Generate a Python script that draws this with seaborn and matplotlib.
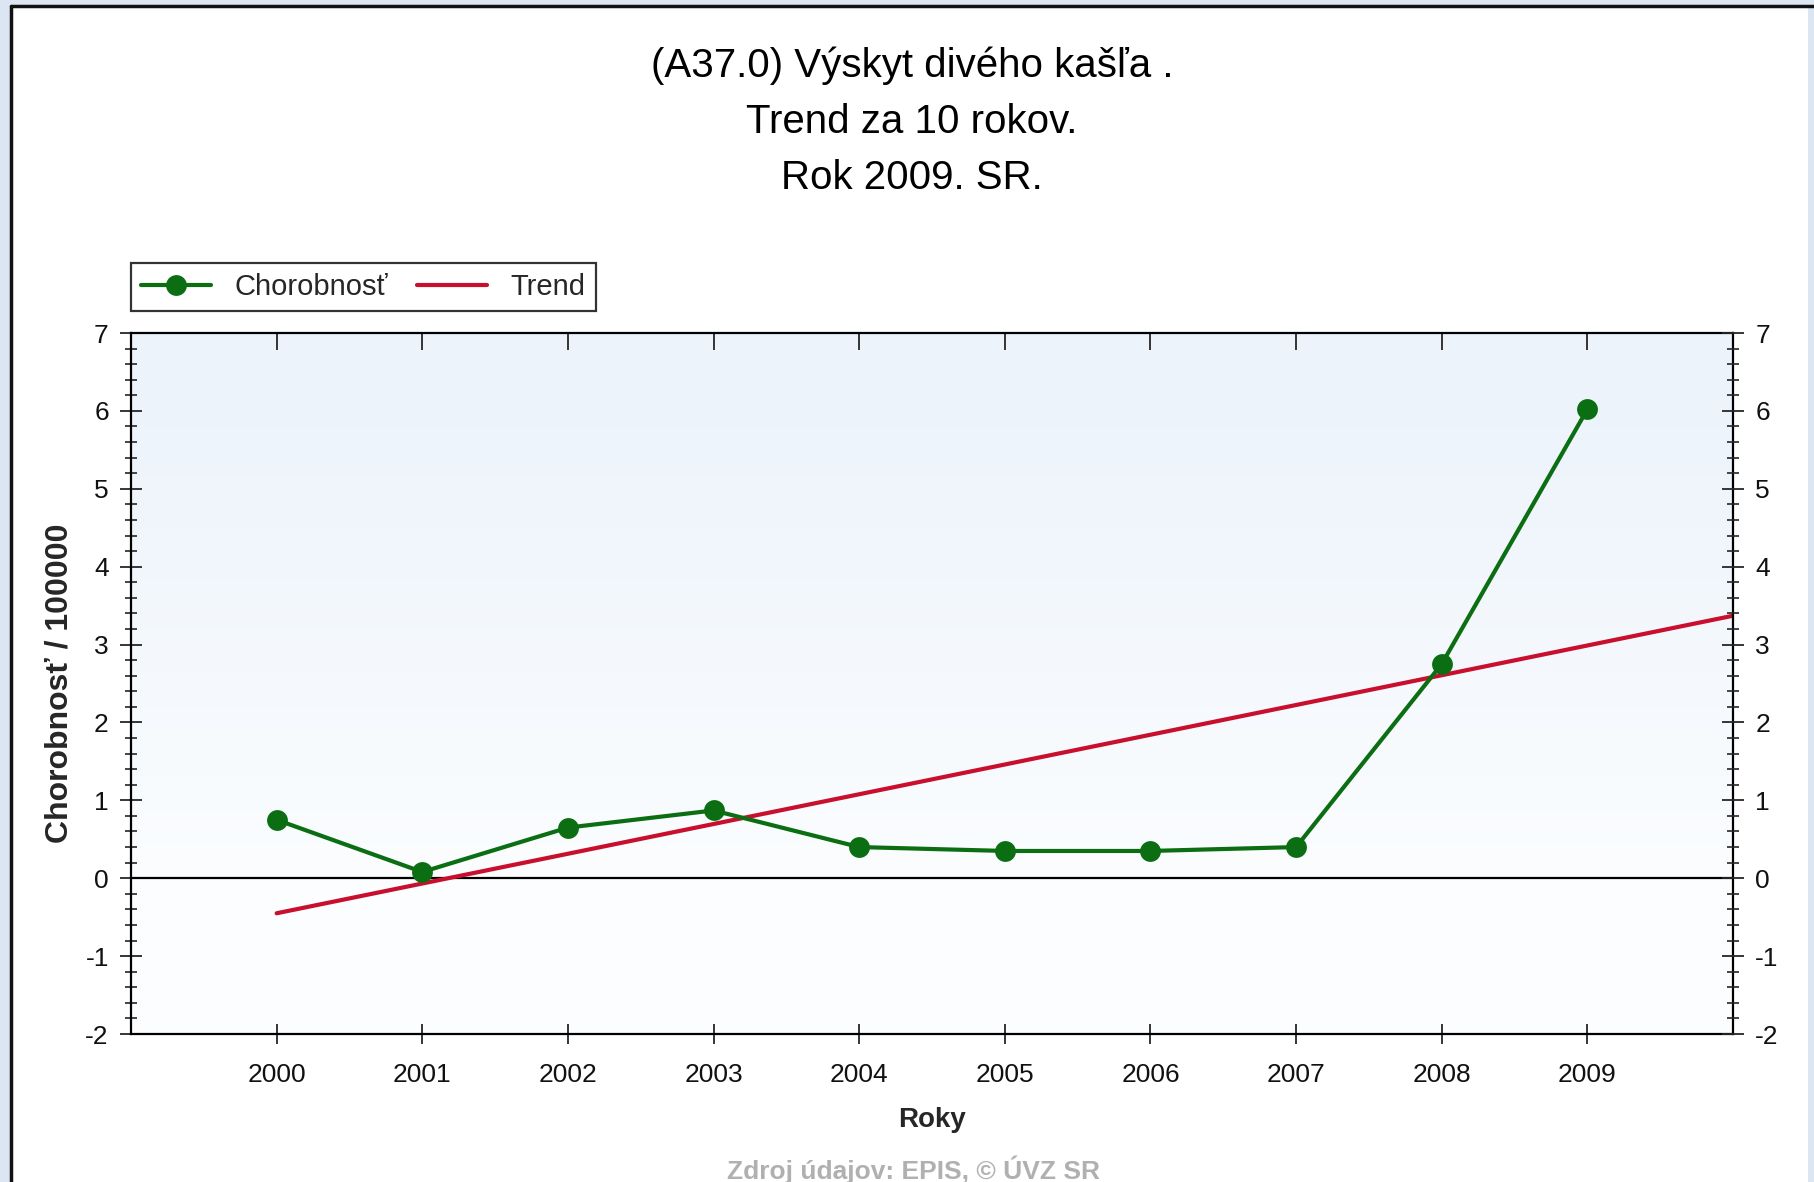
import numpy as np
import pandas as pd
import matplotlib
matplotlib.use("Agg")
import matplotlib.pyplot as plt
from matplotlib.lines import Line2D
from matplotlib.patches import Rectangle
from matplotlib.ticker import MultipleLocator
import seaborn as sns

# data
years = [2000, 2001, 2002, 2003, 2004, 2005, 2006, 2007, 2008, 2009]
chorobnost = [0.75, 0.08, 0.65, 0.87, 0.40, 0.35, 0.35, 0.40, 2.75, 6.02]
trend_years = [2000, 2010]
trend_values = [-0.45, 3.37]
y_ticks = [-2, -1, 0, 1, 2, 3, 4, 5, 6, 7]

title_lines = ["(A37.0) Výskyt divého kašľa .", "Trend za 10 rokov.", "Rok 2009. SR."]
series_label = "Chorobnosť"
trend_label = "Trend"
x_title = "Roky"
y_title = "Chorobnosť / 100000"
footer = "Zdroj údajov: EPIS, © ÚVZ SR"

GREEN = "#0c6e12"
RED = "#c8102e"

sns.set_theme(style="white")
FONT = ["Liberation Sans", "DejaVu Sans"]
plt.rcParams["font.family"] = FONT

df = pd.DataFrame({"rok": years, "val": chorobnost})
df_trend = pd.DataFrame({"rok": trend_years, "val": trend_values})

fig = plt.figure(figsize=(18.15, 11.82), dpi=100)
fig.patch.set_facecolor("#dce6f2")

# white panel with dark border on left and top
fig.add_artist(Rectangle((12 / 1815, -0.01), (1808 - 12) / 1815, 1.01 - 7 / 1182,
                         transform=fig.transFigure, facecolor="white", edgecolor="none", zorder=0))
fig.add_artist(Line2D([11 / 1815, 11 / 1815], [0, 1 - 6 / 1182], transform=fig.transFigure,
                      color="#111111", lw=2.5))
fig.add_artist(Line2D([11 / 1815, 1], [1 - 6 / 1182, 1 - 6 / 1182], transform=fig.transFigure,
                      color="#111111", lw=2.5))

ax = fig.add_axes([131 / 1815, 1 - 1034 / 1182, (1733 - 131) / 1815, (1034 - 333) / 1182])
ax.set_facecolor("white")

# light blue gradient background of the plot area
grad = np.linspace(0, 1, 256).reshape(-1, 1)
top_c = np.array([0.93, 0.955, 0.985])
bot_c = np.array([0.99, 0.996, 1.0])
w = np.clip((grad - 0.15) / 0.75, 0, 1)
img = (top_c * w + bot_c * (1 - w))[:, None, :]
ax.imshow(img, extent=[0, 1, 0, 1], transform=ax.transAxes, aspect="auto",
          origin="lower", zorder=0)

ax.axhline(0, color="black", lw=1.6, zorder=1)

sns.lineplot(data=df_trend, x="rok", y="val", color=RED, lw=3, ax=ax, zorder=2,
             label=trend_label)
sns.lineplot(data=df, x="rok", y="val", color=GREEN, lw=3, marker="o", markersize=15,
             markeredgewidth=0, ax=ax, zorder=3, label=series_label)

ax.set_xlim(1999, 2010)
ax.set_ylim(-2, 7)
ax.set_xticks(years)
ax.set_xticklabels([str(y) for y in years], fontsize=19, color="#111111")
ax.set_yticks(y_ticks)
ax.set_yticklabels([str(v) for v in y_ticks], fontsize=19, color="#111111")
ax.yaxis.set_minor_locator(MultipleLocator(0.2))
ax.tick_params(axis="x", which="major", direction="inout", length=14, width=1.3,
               bottom=True, pad=14)
ax.tick_params(axis="y", which="major", direction="inout", length=16, width=1.3,
               left=True, pad=8)
ax.tick_params(axis="y", which="minor", direction="inout", length=9, width=1.2, left=True)

for s in ax.spines.values():
    s.set_color("black")
    s.set_linewidth(1.6)

ax.set_xlabel(x_title, fontsize=20, fontweight="bold", labelpad=14)
ax.set_ylabel(y_title, fontsize=23, fontweight="bold", labelpad=8)

# right axis mirrors the left
ax_r = ax.twinx()
ax_r.set_ylim(-2, 7)
ax_r.set_yticks(y_ticks)
ax_r.set_yticklabels([str(v) for v in y_ticks], fontsize=19, color="#111111")
ax_r.yaxis.set_minor_locator(MultipleLocator(0.2))
ax_r.tick_params(axis="y", which="major", direction="inout", length=16, width=1.3,
                 right=True, pad=8)
ax_r.tick_params(axis="y", which="minor", direction="inout", length=9, width=1.2, right=True)
ax_r.grid(False)
for s in ax_r.spines.values():
    s.set_visible(False)

# top ticks pointing in
ax_t = ax.secondary_xaxis("top")
ax_t.set_xticks(years)
ax_t.set_xticklabels([])
ax_t.tick_params(direction="in", length=12, width=1.3, top=True)
ax_t.spines["top"].set_visible(False)

handles, labels = ax.get_legend_handles_labels()
order = [labels.index(series_label), labels.index(trend_label)]
leg = ax.legend([handles[i] for i in order], [labels[i] for i in order],
                loc="lower left", bbox_to_anchor=(0.0, 1.031), borderaxespad=0,
                ncol=2, fontsize=21, frameon=True, fancybox=False, borderpad=0.35,
                handlelength=2.4, columnspacing=1.0, handletextpad=0.8)
leg.get_frame().set_edgecolor("black")
leg.get_frame().set_linewidth(1.6)

for i, line in enumerate(title_lines):
    fig.text(912 / 1815, 1 - (66 + 56 * i) / 1182, line, ha="center", va="center",
             fontsize=29, color="black")

fig.text(914 / 1815, 1 - 1170 / 1182, footer, ha="center", va="center",
         fontsize=19, color="#b0b0b0", fontweight="bold")

fig.savefig("out.png", dpi=100, facecolor=fig.get_facecolor())
